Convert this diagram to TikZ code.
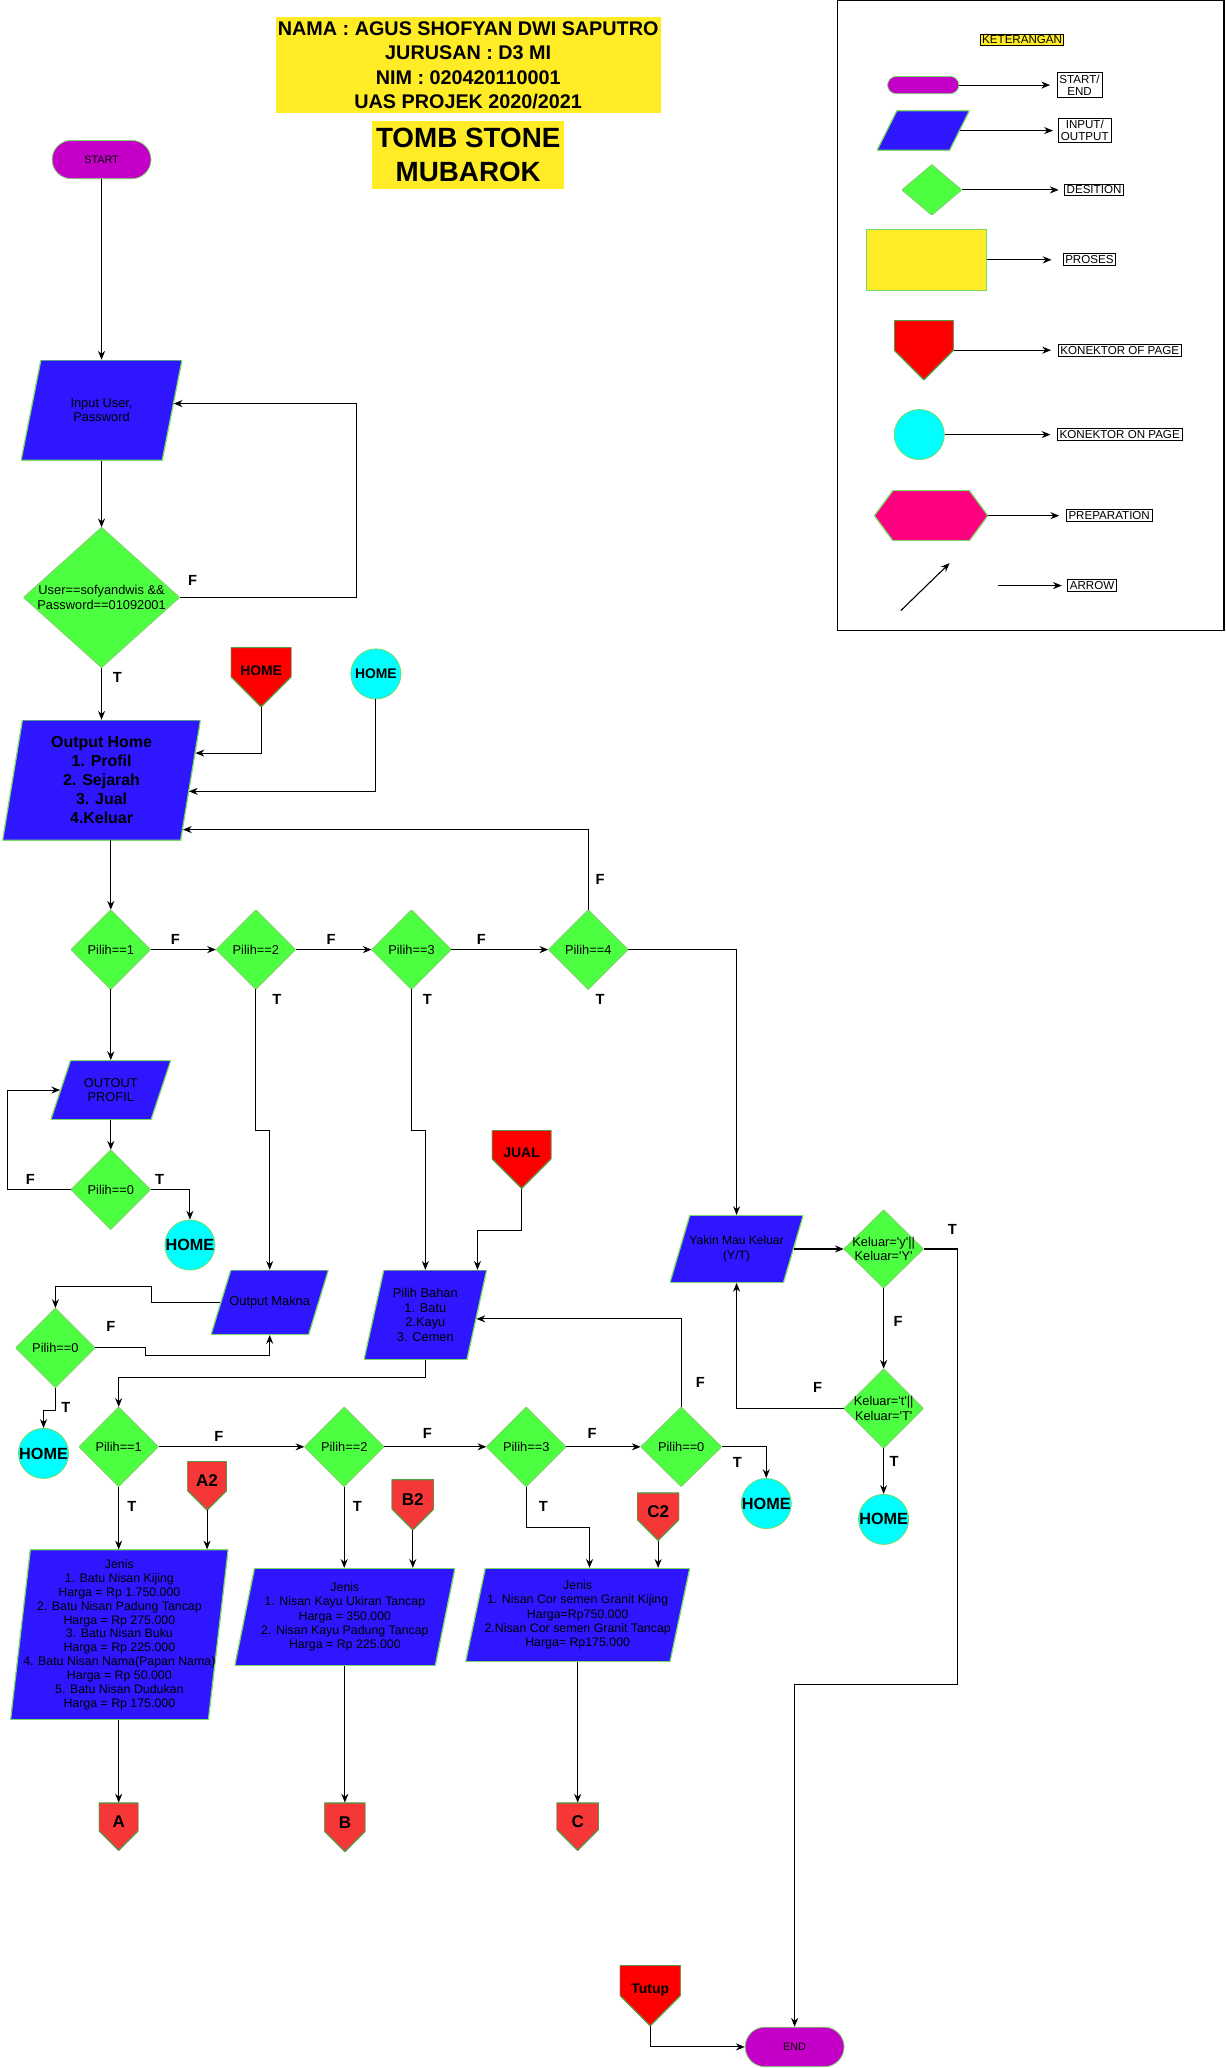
\documentclass[tikz,border=0pt]{standalone}
\usepackage{fontspec}
\setmainfont{Liberation Sans}
\setsansfont{Liberation Sans}
\usetikzlibrary{arrows.meta}

\definecolor{biru}{RGB}{46,22,255}
\definecolor{hijau}{RGB}{76,255,64}
\definecolor{ungu}{RGB}{196,0,200}
\definecolor{merah}{RGB}{255,0,0}
\definecolor{merahmuda}{RGB}{245,55,55}
\definecolor{cyanp}{RGB}{0,255,255}
\definecolor{kuning}{RGB}{255,236,39}
\definecolor{pinkp}{RGB}{255,0,128}
\definecolor{garis}{RGB}{120,220,100}

\newcommand\ppb{path picture bounding box}

\tikzset{
  wh/.style 2 args={minimum width=#1*0.3mm, minimum height=#2*0.3mm},
  arr/.style={-{Stealth[length=2mm,width=1.6mm]}, line width=0.7pt},
  lab/.style={font=\bfseries\fontsize{9.5}{10}\selectfont, inner sep=0pt},
  term/.style={draw=garis, fill=ungu, line width=0.5pt, inner sep=0pt, font=\fontsize{7}{8}\selectfont},
  io/.style={inner sep=0pt, align=center, font=\fontsize{8.3}{9.5}\selectfont,
    path picture={\filldraw[fill=biru, draw=garis, line width=0.8pt] (\ppb.south west) -- ([xshift=-4.5mm]\ppb.south east)
      -- (\ppb.north east) -- ([xshift=4.5mm]\ppb.north west) -- cycle;}},
  dec/.style={inner sep=0pt, align=center, font=\fontsize{8.3}{9.5}\selectfont,
    path picture={\filldraw[fill=hijau, draw=garis, line width=0.8pt] (\ppb.north) -- (\ppb.east)
      -- (\ppb.south) -- (\ppb.west) -- cycle;}},
  offpage/.style n args={3}{minimum width=#2*0.3mm, minimum height=#3*0.3mm, inner sep=0pt,
    text height=7pt, text depth=9pt, font=\bfseries\fontsize{9}{10}\selectfont,
    path picture={\filldraw[fill=#1, draw=garis!70!black, line width=0.8pt] (\ppb.north west) -- (\ppb.north east)
      -- ([yshift=#2*0.15mm]\ppb.south east) -- (\ppb.south) -- ([yshift=#2*0.15mm]\ppb.south west) -- cycle;}},
  besar/.style={text height=8pt, text depth=7pt, font=\bfseries\fontsize{11}{12}\selectfont},
  onpage/.style={circle, draw=garis, fill=cyanp, line width=0.5pt, minimum size=11.4mm, inner sep=0pt,
    font=\bfseries\fontsize{10.5}{11}\selectfont},
  proses/.style={draw=garis, fill=kuning, line width=0.8pt},
  prep/.style={inner sep=0pt,
    path picture={\filldraw[fill=pinkp, draw=garis, line width=0.8pt] (\ppb.west) -- ([xshift=4.2mm]\ppb.north west)
      -- ([xshift=-4.2mm]\ppb.north east) -- (\ppb.east) -- ([xshift=-4.2mm]\ppb.south east)
      -- ([xshift=4.2mm]\ppb.south west) -- cycle;}},
  lgd/.style={draw, line width=0.5pt, fill=white, inner xsep=1.5pt, inner ysep=1.2pt, align=center,
    font=\fontsize{7.5}{8}\selectfont},
}

\begin{document}
\begin{tikzpicture}[x=0.3mm, y=-0.3mm]

    \useasboundingbox (0,0) rectangle (929,1568);
    \fill [white] (0,0) rectangle (929,1568);

    % judul
    \node [fill=kuning, wh={292}{73}, inner sep=1pt, align=center, font=\bfseries\fontsize{12.8}{15.6}\selectfont] (judul) at (355,49.5)
        {NAMA : AGUS SHOFYAN DWI SAPUTRO\\JURUSAN : D3 MI\\NIM : 020420110001\\UAS PROJEK 2020/2021};
    \node [fill=kuning, wh={146}{51}, inner sep=1pt, align=center, font=\bfseries\fontsize{18}{22}\selectfont] (judul2) at (355,117.5)
        {TOMB STONE\\MUBAROK};

    % login
    \node [term, wh={75}{29}, rounded corners=4.35mm] (start) at (77,121) {START};
    \node [io, wh={122}{76}] (inp) at (77,311) {Input User,\\Password};
    \node [dec, wh={118}{106}] (cek) at (77,453) {User==sofyandwis \&\&\\Password==01092001};
    \node [io, wh={150}{91}, inner xsep=0pt, font=\bfseries\fontsize{10.3}{12.4}\selectfont] (home) at (77,591.5)
        {Output Home\\1. Profil\\2. Sejarah\\3. Jual\\4.Keluar\hspace{2.4mm}};
    \node [offpage={merah}{46}{45}] (hmoff) at (198,513.5) {HOME};
    \node [onpage, font=\bfseries\fontsize{9}{10}\selectfont] (hmon) at (285,511) {HOME};

    % menu
    \node [dec, wh={60}{60}] (p1) at (84,720) {Pilih==1};
    \node [dec, wh={60}{60}] (p2) at (194,720) {Pilih==2};
    \node [dec, wh={60}{60}] (p3) at (312,720) {Pilih==3};
    \node [dec, wh={60}{60}] (p4) at (446,720) {Pilih==4};

    \node [io, wh={91}{45}] (op) at (84,826.5) {OUTOUT\\PROFIL};
    \node [dec, wh={60}{60}] (p0a) at (84,902) {Pilih==0};
    \node [onpage] (hc1) at (144,944) {HOME};

    \node [io, wh={89}{49}] (makna) at (204.5,987.5) {Output Makna};
    \node [dec, wh={60}{60}] (p0b) at (42,1022) {Pilih==0};
    \node [onpage] (hc2) at (33,1102) {HOME};

    \node [offpage={merah}{45}{44}] (jual) at (395.5,879) {JUAL};
    \node [io, wh={93}{68}] (bahan) at (322.5,997) {Pilih Bahan\\1. Batu\\2.Kayu\\3. Cemen};

    % bahan
    \node [dec, wh={60}{60}] (q1) at (90,1097) {Pilih==1};
    \node [dec, wh={60}{60}] (q2) at (261,1097) {Pilih==2};
    \node [dec, wh={60}{60}] (q3) at (399,1097) {Pilih==3};
    \node [dec, wh={61}{60}] (q0) at (516.5,1097) {Pilih==0};
    \node [onpage] (hc3) at (581,1140) {HOME};

    \node [offpage={merahmuda}{30}{37}, besar] (a2) at (157,1126.5) {A2};
    \node [io, wh={165}{129}, font=\fontsize{8}{9}\selectfont] (jenisa) at (90.5,1239.5)
        {Jenis\\1. Batu Nisan Kijing\\Harga = Rp 1.750.000\\2. Batu Nisan Padung Tancap\\Harga = Rp 275.000\\3. Batu Nisan Buku\\Harga = Rp 225.000\\4. Batu Nisan Nama(Papan Nama)\\Harga = Rp 50.000\\5. Batu Nisan Dudukan\\Harga = Rp 175.000};
    \node [offpage={merahmuda}{30}{36}, besar] (offa) at (90,1385) {A};

    \node [offpage={merahmuda}{32}{38}, besar] (b2) at (313,1141) {B2};
    \node [io, wh={167}{74}, font=\fontsize{8}{9.2}\selectfont] (jenisb) at (261.5,1226)
        {Jenis\\1. Nisan Kayu Ukiran Tancap\\Harga = 350.000\\2. Nisan Kayu Padung Tancap\\Harga = Rp 225.000};
    \node [offpage={merahmuda}{31}{37}, besar] (offb) at (261.5,1385.5) {B};

    \node [offpage={merahmuda}{32}{36}, besar] (c2) at (499,1150) {C2};
    \node [io, wh={170}{71}, font=\fontsize{8}{9.2}\selectfont] (jenisc) at (438,1224.5)
        {Jenis\\1. Nisan Cor semen Granit Kijing\\Harga=Rp750.000\\2.Nisan Cor semen Granit Tancap\\Harga= Rp175.000};
    \node [offpage={merahmuda}{32}{36}, besar] (offc) at (438,1385) {C};

    % keluar
    \node [io, wh={101}{51}, font=\fontsize{7.8}{9.4}\selectfont] (yakin) at (558.5,947) {Yakin Mau Keluar\\(Y/T)};
    \node [dec, wh={60}{59}] (ky) at (670,947) {Keluar=\textquotesingle y\textquotesingle||\\Keluar=\textquotesingle Y\textquotesingle};
    \node [dec, wh={60}{60}] (kt) at (670,1068) {Keluar=\textquotesingle t\textquotesingle||\\Keluar=\textquotesingle T\textquotesingle};
    \node [onpage] (hc4) at (670,1152) {HOME};
    \node [offpage={merah}{46}{46}] (tutup) at (493,1513) {Tutup};
    \node [term, wh={75}{30}, rounded corners=4.5mm] (selesai) at (602.5,1552) {END};

    % garis
    \draw [arr] (start) -- (inp);
    \draw [arr] (inp) -- (cek);
    \draw [arr] (cek.east) -- ++(134,0) |- ([shift={(-6.5,-5)}]inp.east);
    \draw [arr] (cek) -- (home);
    \draw [arr] (hmoff.south) |- ([shift={(-4,-20.5)}]home.east);
    \draw [arr] (hmon.south) |- ([shift={(-9,8.5)}]home.east);
    \draw [arr] (p4.north) |- ([shift={(-13.5,37.5)}]home.east);
    \draw [arr] (p1.north |- home.south) -- (p1.north);
    \draw [arr] (p1) -- (p2);
    \draw [arr] (p2) -- (p3);
    \draw [arr] (p3) -- (p4);

    \draw [arr] (p1) -- (op);
    \draw [arr] (op) -- (p0a);
    \draw [arr] (p0a.west) -- ++(-48,0) |- ([xshift=2.2mm]op.west);
    \draw [arr] (p0a.east) -| (hc1.north);

    \draw [arr] (p2.south) -- ++(0,107) -| (makna.north);
    \draw [arr] ([xshift=2.2mm]makna.west) -- ++(-52,0) -- ++(0,-12) -| (p0b.north);
    \draw [arr] (p0b.east) -- ++(38,0) -- ++(0,6) -| (makna.south);
    \draw [arr] (p0b.south) -- ++(0,17) -| (hc2.north);

    \draw [arr] (p3.south) -- ++(0,107) -| (bahan.north);
    \draw [arr] (jual.south) -- ++(0,32) -| ([xshift=11.85mm]bahan.north);
    \draw [arr] (bahan.south) -- ++(0,13) -| (q1.north);
    \draw [arr] (q1) -- (q2);
    \draw [arr] (q2) -- (q3);
    \draw [arr] (q3) -- (q0);
    \draw [arr] (q0.north) |- ([shift={(-8,3)}]bahan.east);
    \draw [arr] (q0.east) -| (hc3.north);

    \draw [arr] (q1.south) -- (q1.south |- jenisa.north);
    \draw [arr] (a2.south) -- (a2.south |- jenisa.north);
    \draw [arr] (offa.north |- jenisa.south) -- (offa.north);
    \draw [arr] (q2.south) -- (q2.south |- jenisb.north);
    \draw [arr] (b2.south) -- (b2.south |- jenisb.north);
    \draw [arr] (offb.north |- jenisb.south) -- (offb.north);
    \draw [arr] (q3.south) -- ++(0,31) -| ([xshift=2.7mm]jenisc.north);
    \draw [arr] (c2.south) -- (c2.south |- jenisc.north);
    \draw [arr] (offc.north |- jenisc.south) -- (offc.north);

    \draw [arr] (p4.east) -| (yakin.north);
    \draw [arr] ([xshift=-2.25mm]yakin.east) -- (ky.west);
    \draw [arr] (ky) -- (kt);
    \draw [arr] (kt.west) -| (yakin.south);
    \draw [arr] (kt) -- (hc4);
    \draw [arr] (ky.east) -- ++(26,0) -- ++(0,330) -| (selesai.north);
    \draw [arr] (tutup.south) |- (selesai.west);

    % label T / F
    \foreach \x/\y/\t [count=\i] in {146/440/F, 89/514/T, 455/667/F, 133/712/F, 251/712/F, 365/712/F,
        210/758/T, 324/758/T, 455/758/T, 23/894/F, 121/894/T, 84/1006/F, 50/1067/T, 166/1089/F,
        324/1087/F, 449/1087/F, 100/1142/T, 271/1142/T, 412/1142/T, 559/1109/T, 531/1048/F,
        722/932/T, 681/1002/F, 620/1052/F, 678/1108/T}
        \node [lab] (lab\i) at (\x,\y) {\t};

    % keterangan
    \node [draw, line width=1pt, wh={293}{478}] (legenda) at (781.5,239) {};
    \node [draw, line width=0.5pt, fill=kuning, inner sep=1pt, font=\fontsize{7.5}{8}\selectfont] (ket) at (775,30) {KETERANGAN};

    \node [term, wh={54}{13}, rounded corners=1.95mm] (lterm) at (700,64.5) {};
    \node [lgd] (lse) at (818.5,64.5) {START/\\END};
    \draw [arr] (lterm) -- ([xshift=-1.5mm]lse.west);

    \node [io, wh={70}{30}] (lio) at (700,99) {};
    \node [lgd] (lioket) at (822.5,99) {INPUT/\\OUTPUT};
    \draw [arr] ([xshift=-2.25mm]lio.east) -- ([xshift=-1.2mm]lioket.west);

    \node [dec, wh={45}{38}] (ldec) at (706.5,144) {};
    \node [lgd] (ldecket) at (829.5,144) {DESITION};
    \draw [arr] (ldec.east) -- ([xshift=-1.2mm]ldecket.west);

    \node [proses, wh={91}{46}] (lproc) at (702.5,197) {};
    \node [lgd] (lprocket) at (826,197) {PROSES};
    \draw [arr] (lproc.east) -- ([xshift=-2.5mm]lprocket.west);

    \node [offpage={merah}{45}{45}] (loff) at (700.5,265.5) {};
    \node [lgd] (loffket) at (849,265.5) {KONEKTOR OF PAGE};
    \draw [arr] (loff.east) -- ([xshift=-1.5mm]loffket.west);

    \node [onpage] (lon) at (697,329.5) {};
    \node [lgd] (lonket) at (849,329.5) {KONEKTOR ON PAGE};
    \draw [arr] (lon.east) -- ([xshift=-1.5mm]lonket.west);

    \node [prep, wh={86}{38}] (lprep) at (706,391) {};
    \node [lgd] (lprepket) at (841,391) {PREPARATION};
    \draw [arr] (lprep.east) -- ([xshift=-1.5mm]lprepket.west);

    \coordinate (panah1) at (683,463);
    \coordinate (panah2) at (720,427);
    \draw [arr] (panah1) -- (panah2);
    \coordinate (panah3) at (757,444);
    \node [lgd] (larrow) at (828,444) {ARROW};
    \draw [arr] (panah3) -- ([xshift=-1.2mm]larrow.west);

\end{tikzpicture}
\end{document}
